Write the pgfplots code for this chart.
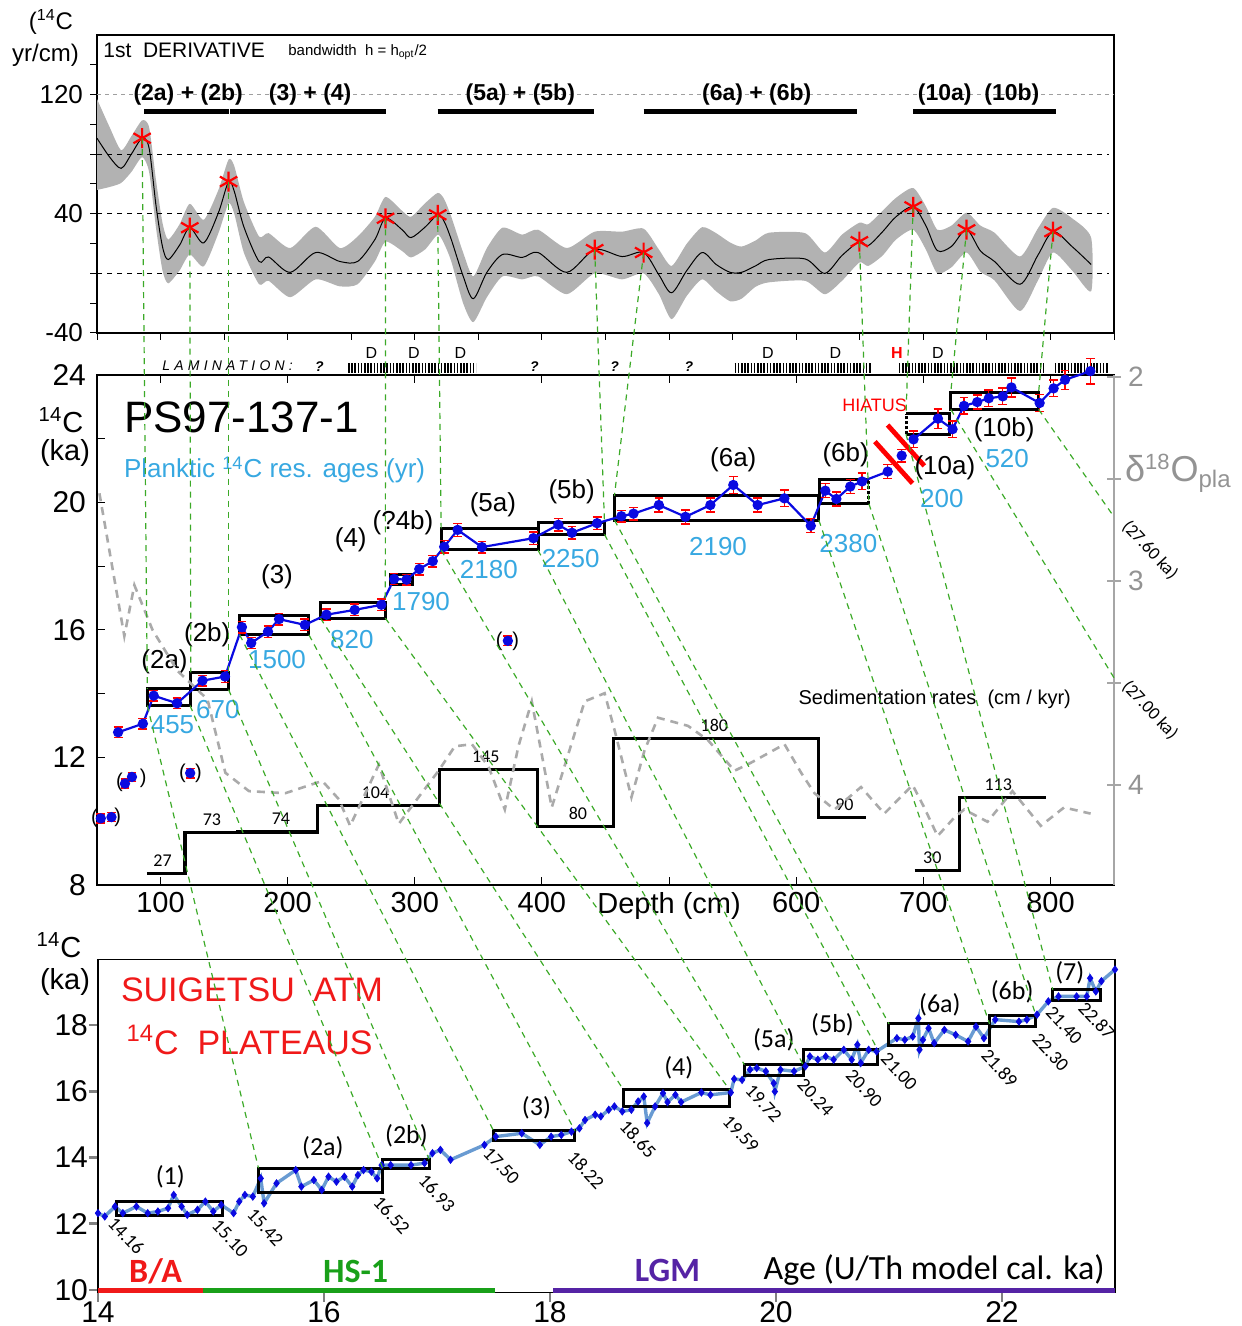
\documentclass[border=0pt]{standalone}
\usepackage{pgfplots}
\usepackage{pgfplotstable}
\pgfplotsset{compat=1.18}
\usepackage{fontspec}
\setmainfont{Liberation Sans}
\newfontfamily\calfont{Carlito}
\newcommand{\fsz}[1]{\fontsize{#1}{#1}\selectfont}

\definecolor{gline}{RGB}{60,170,40}
\definecolor{resblue}{RGB}{55,168,225}
\definecolor{ptblue}{RGB}{10,10,225}
\definecolor{sgline}{RGB}{105,155,210}
\definecolor{bared}{RGB}{240,25,25}
\definecolor{hsgreen}{RGB}{25,160,25}
\definecolor{lgmpurple}{RGB}{85,35,165}
\definecolor{d18grey}{RGB}{170,170,170}

% first derivative of the 14C age-depth relation (14C yr/cm)
\pgfplotstableread{
x y
50 90.7
60 78
69 70.5
77 80
85.5 90.7
91 84
96.5 45
101.5 18
106 9.3
115 19
123 30.7
134 20.5
145.5 40.7
153.5 61.6
158 55
165.5 31.3
177.5 8
185 11
202 0.7
222 14
241 8
255 8
268.6 22.7
277 37
290 29.3
297 24
308 31
318 39.3
323 35
328.7 22.7
338 -1.8
346 -17
356.7 0.7
369 12.7
384.5 10.7
397 14
419.5 0.7
441.5 16
463 11.3
480 14
492 -1
502 -13
514 2
526 14
537 6
548 0.7
557 0.7
568 5
578.6 9.3
607 9.7
622.5 0
636 12
649.7 21.3
656.7 18.7
668 28
678.5 38
692 44.7
702 32
711 15.3
722 18
734 29.3
745 15
756 8
776 -7.3
790 12
802 28
817 18
832 6
}\derivcurve

% Lake Suigetsu atmospheric 14C ages (ka) vs U/Th model age (ka)
\pgfplotstableread{
age c14
14.00 12.32
14.06 12.22
14.15 12.52
14.22 12.32
14.34 12.52
14.44 12.32
14.53 12.37
14.62 12.47
14.67 12.87
14.74 12.52
14.79 12.27
14.88 12.42
14.95 12.67
15.02 12.37
15.09 12.57
15.20 12.32
15.25 12.67
15.30 12.87
15.37 12.82
15.44 13.37
15.47 12.62
15.58 13.22
15.75 13.62
15.80 13.12
15.91 13.32
15.98 13.02
16.04 13.42
16.11 13.27
16.18 13.42
16.25 13.12
16.30 13.47
16.35 13.62
16.42 13.57
16.47 13.37
16.51 13.77
16.59 13.77
16.77 13.77
16.89 13.83
16.96 14.13
17.03 14.23
17.12 13.93
17.42 14.38
17.52 14.63
17.75 14.73
17.91 14.38
18.01 14.63
18.10 14.68
18.19 14.78
18.26 14.88
18.31 15.13
18.40 15.29
18.45 15.24
18.52 15.44
18.57 15.54
18.64 15.39
18.72 15.44
18.78 15.69
18.83 15.84
18.86 15.04
18.93 15.54
19.00 15.94
19.04 15.67
19.11 15.89
19.16 15.67
19.34 15.96
19.42 15.89
19.60 15.96
19.63 16.37
19.70 16.34
19.77 16.65
19.83 16.70
19.91 16.60
19.98 16.24
19.99 15.99
20.04 16.65
20.16 16.60
20.26 16.75
20.30 17.05
20.37 16.95
20.44 17.05
20.51 16.95
20.60 17.25
20.67 16.95
20.72 17.40
20.75 16.85
20.82 17.25
20.89 17.20
21.07 17.60
21.14 17.55
21.21 17.65
21.26 18.20
21.27 17.25
21.30 17.55
21.35 17.90
21.40 17.45
21.49 17.85
21.59 17.70
21.70 17.50
21.77 17.95
21.84 17.60
21.94 18.16
22.15 18.10
22.22 18.16
22.31 18.31
22.41 18.71
22.50 18.86
22.66 18.86
22.75 18.86
22.78 19.41
22.83 19.01
22.88 19.32
23.00 19.67
}\suigetsu

\tikzset{gl/.style={gline, line width=0.6pt, dash pattern=on 3pt off 2.5pt}}
\pgfplotsset{agestyle/.style={ptblue, line width=1.1pt, mark=*, mark size=2pt, mark options={ptblue, solid},
  error bars/y dir=both, error bars/y explicit,
  error bars/error bar style={red, line width=0.7pt},
  error bars/error mark options={red, mark size=2.2pt, rotate=90, line width=0.7pt}}}

\begin{document}
\begin{tikzpicture}
\useasboundingbox (0pt,0pt) rectangle (620.5pt,663pt);

% ================= top panel: 1st derivative =================
\begin{axis}[
  at={(48.5pt,496.5pt)}, anchor=south west,
  width=508.5pt, height=149pt, scale only axis,
  xmin=50, xmax=850, ymin=-40, ymax=160,
  xtick={50,100,...,850}, xticklabels={},
  ytick={-40,40,120}, minor ytick={-20,0,20,60,80,100,140},
  xtick pos=bottom, ytick pos=left,
  tick align=outside, major tick length=3.5pt, minor tick length=3.5pt,
  tick style={black, line width=0.5pt},
  /pgf/number format/assume math mode=true,
  yticklabel style={font=\fsz{13}},
  axis line style={line width=0.6pt},
  clip=false,
]
% confidence band: upper edge left to right, lower edge right to left
\addplot[fill=gray!60, draw=none, smooth, tension=0.4] coordinates {
 (50,117) (60,98) (69,82.7) (77,92) (85.5,102.7) (91,98) (96.5,62) (101.5,34) (106,22.7)
 (115,33) (123,46.7) (134,36) (145.5,56) (153.5,76.4) (158,72) (165.5,48) (177.5,24.7)
 (185,27) (202,17) (222,31.3) (241,17) (255,24.7) (268.6,38) (277,51.3) (290,42) (297,38)
 (308,47) (318,54) (323,50) (328.7,38) (338,14) (346,-2) (356.7,17) (369,30.7) (384.5,26)
 (397,29.3) (419.5,17) (441.5,28) (463,28) (480,30) (492,16) (502,5) (514,20) (526,31)
 (537,27) (548,20.7) (557,18) (568,22) (578.6,27.3) (607,27) (622.5,14) (636,26)
 (649.7,34) (656.7,33) (668,42) (678.5,50.7) (692,57.3) (702,45) (711,29.3) (722,32)
 (734,40.7) (745,32) (756,27.3) (776,11.3) (790,30) (802,44) (817,37) (832,24)
 (832,-12) (817,2) (802,14) (790,-5) (776,-25.3) (756,-4.7) (745,1) (734,14) (722,4)
 (711,0) (702,16) (692,29.3) (678.5,22.7) (668,12) (656.7,5) (649.7,7.3) (636,-5)
 (622.5,-14) (607,-5) (578.6,-6) (568,-9) (557,-17) (548,-18.7) (537,-12) (526,-4)
 (514,-15) (502,-30.7) (492,-14) (480,0) (463,-4) (441.5,0) (419.5,-14) (397,-2)
 (384.5,-4) (369,-2) (356.7,-16) (346,-32.7) (338,-20) (328.7,8) (323,20) (318,26)
 (308,16) (297,10.7) (290,15) (277,21.3) (268.6,8) (255,-7.3) (241,-8.7) (222,-4)
 (202,-16) (185,-5) (177.5,-7.3) (165.5,14) (158,40) (153.5,47) (145.5,27) (134,4.7)
 (123,12.7) (115,2) (106,-6.7) (101.5,2) (96.5,30) (91,68) (85.5,78) (77,68) (69,60.7)
 (60,58) (50,56)
};
\draw[gray!75, dash pattern=on 2pt off 2pt, line width=0.6pt] (axis cs:50,120) -- (axis cs:850,120);
\draw[black, dash pattern=on 2.5pt off 2.5pt, line width=0.5pt] (axis cs:50,80) -- (axis cs:846,80);
\draw[black, dash pattern=on 2.5pt off 2.5pt, line width=0.5pt] (axis cs:50,40) -- (axis cs:846,40);
\draw[black, dash pattern=on 2.5pt off 2.5pt, line width=0.5pt] (axis cs:50,0) -- (axis cs:846,0);
\addplot[black, line width=0.5pt, smooth] table[x=x, y=y] {\derivcurve};
\addplot[only marks, red, mark=asterisk, mark size=5pt, mark options={line width=1.1pt}]
  coordinates {(85.5,90.7) (123,30.7) (153.5,61.6) (277,37) (318,39.3) (441.5,16)
               (480,14) (649.7,21.3) (692,44.7) (734,29.3) (802,28)};
\addplot[black, line width=2.6pt] coordinates {(87,108.7) (153.6,108.7)};
\addplot[black, line width=2.6pt] coordinates {(154.4,108.7) (277,108.7)};
\addplot[black, line width=2.6pt] coordinates {(318,108.7) (441,108.7)};
\addplot[black, line width=2.6pt] coordinates {(480,108.7) (648,108.7)};
\addplot[black, line width=2.6pt] coordinates {(692,108.7) (804,108.7)};
\node[font=\bfseries\fsz{11.5}] at (axis cs:121.7,120) {(2a) + (2b)};
\node[font=\bfseries\fsz{11.5}] at (axis cs:217.7,120) {(3) + (4)};
\node[font=\bfseries\fsz{11.5}] at (axis cs:383,120) {(5a) + (5b)};
\node[font=\bfseries\fsz{11.5}] at (axis cs:569,120) {(6a) + (6b)};
\node[font=\bfseries\fsz{11.5}] at (axis cs:743.5,120) {(10a)\ \ (10b)};
\coordinate (t1) at (axis cs:85.5,90.7);
\coordinate (t2) at (axis cs:123,30.7);
\coordinate (t3) at (axis cs:153.5,61.6);
\coordinate (t4) at (axis cs:277,37);
\coordinate (t5) at (axis cs:318,39.3);
\coordinate (t6) at (axis cs:441.5,16);
\coordinate (t7) at (axis cs:480,14);
\coordinate (t8) at (axis cs:649.7,21.3);
\coordinate (t9) at (axis cs:692,44.7);
\coordinate (t10) at (axis cs:734,29.3);
\coordinate (t11) at (axis cs:802,28);
\end{axis}

\node[font=\fsz{12}] at (25.5pt,652pt) {(\textsuperscript{14}C};
\node[font=\fsz{12}] at (22.75pt,635.5pt) {yr/cm)};
\node[font=\fsz{10.5}, anchor=west, inner sep=0pt] at (51.5pt,638pt) {1st\ \ DERIVATIVE};
\node[font=\fsz{7.5}, anchor=west, inner sep=0pt] at (144pt,637pt) {bandwidth\ \ h = h\textsubscript{opt}/2};

% lamination strip
\node[anchor=west, inner sep=0pt, font=\itshape\fsz{7}\addfontfeature{LetterSpace=30}] at (81pt,480pt) {LAMINATION:};
\foreach \qx in {159.7,267.2,307.3,344.5} {\node[font=\bfseries\itshape\fsz{7}] at (\qx pt,479.5pt) {?};}
\draw[line width=5.3pt, dash pattern=on 0.75pt off 0.85pt] (174pt,479pt) -- (238pt,479pt);
\draw[line width=5.3pt, dash pattern=on 0.75pt off 0.85pt] (367.3pt,479pt) -- (435.5pt,479pt);
\draw[line width=5.3pt, dash pattern=on 0.75pt off 0.85pt] (449.4pt,479pt) -- (521.5pt,479pt);
\draw[line width=5.3pt, dash pattern=on 0.75pt off 0.85pt] (527.4pt,479pt) -- (554pt,479pt);
\foreach \dx in {185.75,207,230.25,384,417.7,469} {\node[font=\fsz{8}] at (\dx pt,486.5pt) {D};}
\node[font=\bfseries\fsz{8}, red] at (448.4pt,486.5pt) {H};

% ================= middle panel: PS97-137-1 =================
\begin{axis}[
  at={(48.5pt,220.5pt)}, anchor=south west,
  width=508.5pt, height=255pt, scale only axis,
  xmin=50, xmax=850, ymin=8, ymax=24,
  xtick={100,200,...,800},
  xticklabels={100,200,300,400,Depth (cm),600,700,800},
  ytick={8,12,16,20,24}, minor ytick={10,14,18,22},
  xtick pos=both, ytick pos=left,
  tick align=inside, major tick length=4pt, minor tick length=4pt,
  tick style={black, line width=0.5pt},
  /pgf/number format/assume math mode=true,
  xticklabel style={font=\fsz{14.5}},
  yticklabel style={font=\fsz{15}, xshift=-2pt},
  axis line style={line width=0.8pt},
  clip=false,
]
% plateau boxes
\addplot[black, line width=1.5pt] coordinates {(89.6,13.63) (123.2,13.63) (123.2,14.15) (89.6,14.15) (89.6,13.63) (123.2,13.63)};
\addplot[black, line width=1.5pt] coordinates {(123.8,14.13) (153.5,14.13) (153.5,14.67) (123.8,14.67) (123.8,14.13) (153.5,14.13)};
\addplot[black, line width=1.5pt] coordinates {(162.2,15.85) (216.7,15.85) (216.7,16.45) (162.2,16.45) (162.2,15.85) (216.7,15.85)};
\addplot[black, line width=1.5pt] coordinates {(225.8,16.37) (276.8,16.37) (276.8,16.87) (225.8,16.87) (225.8,16.37) (276.8,16.37)};
\addplot[black, line width=1.5pt] coordinates {(280.8,17.44) (298.4,17.44) (298.4,17.75) (280.8,17.75) (280.8,17.44) (298.4,17.44)};
\addplot[black, line width=1.5pt] coordinates {(320.7,18.51) (396.9,18.51) (396.9,19.19) (320.7,19.19) (320.7,18.51) (396.9,18.51)};
\addplot[black, line width=1.5pt] coordinates {(396.9,19.00) (449.2,19.00) (449.2,19.38) (396.9,19.38) (396.9,19.00) (449.2,19.00)};
\addplot[black, line width=1.5pt] coordinates {(457,19.45) (617.8,19.45) (617.8,20.21) (457,20.21) (457,19.45) (617.8,19.45)};
\addplot[black, line width=1.5pt] coordinates {(657.2,20.71) (618,20.71) (618,19.96) (657.2,19.96)};
\addplot[black, line width=1.5pt, densely dotted] coordinates {(657.2,19.96) (657.2,20.71)};
\addplot[black, line width=1.5pt] coordinates {(686.4,22.78) (720.8,22.78) (720.8,22.14) (686.4,22.14)};
\addplot[black, line width=1.5pt, densely dotted] coordinates {(686.4,22.14) (686.4,22.78)};
\addplot[black, line width=1.5pt] coordinates {(721.6,22.92) (790.7,22.92) (790.7,23.45) (721.6,23.45) (721.6,22.92) (790.7,22.92)};
% planktic 14C ages
\addplot[agestyle] coordinates {
 (66.6,12.79) +- (0,0.17) (86.1,13.06) +- (0,0.17) (94.6,13.94) +- (0,0.17)
 (113.0,13.70) +- (0,0.17) (133.0,14.41) +- (0,0.17) (150.7,14.54) +- (0,0.18)
 (164.0,16.09) +- (0,0.18) (171.3,15.59) +- (0,0.18) (184.5,15.95) +- (0,0.18)
 (193.2,16.34) +- (0,0.18) (213.5,16.16) +- (0,0.18) (230.5,16.48) +- (0,0.18)
 (252.7,16.63) +- (0,0.18) (273.7,16.79) +- (0,0.18) (283.7,17.60) +- (0,0.17)
 (293.5,17.58) +- (0,0.17) (303.5,17.91) +- (0,0.18) (314.1,18.16) +- (0,0.18)
 (323.1,18.61) +- (0,0.2) (333.7,19.14) +- (0,0.2) (352.8,18.60) +- (0,0.18)
 (393.3,18.88) +- (0,0.2) (412.9,19.30) +- (0,0.2) (423.6,19.05) +- (0,0.2)
 (443.4,19.35) +- (0,0.2) (462.5,19.57) +- (0,0.18) (472.0,19.65) +- (0,0.2)
 (492.0,19.92) +- (0,0.22) (512.9,19.55) +- (0,0.22) (532.5,19.92) +- (0,0.22)
 (550.5,20.55) +- (0,0.26) (569.7,19.92) +- (0,0.22) (590.7,20.13) +- (0,0.26)
 (611.5,19.27) +- (0,0.22) (622.9,20.37) +- (0,0.22) (631.6,20.11) +- (0,0.22)
 (642.5,20.50) +- (0,0.22) (651.8,20.66) +- (0,0.26) (672.0,20.97) +- (0,0.22)
};
\addplot[only marks, agestyle] coordinates {(683.0,21.47) +- (0,0.2)};
\addplot[agestyle] coordinates {
 (692.3,21.98) +- (0,0.26) (711.5,22.63) +- (0,0.3) (723.0,22.30) +- (0,0.26)
 (732.0,23.03) +- (0,0.26) (742.4,23.15) +- (0,0.22) (751.5,23.27) +- (0,0.26)
 (762.5,23.33) +- (0,0.26) (769.3,23.61) +- (0,0.3) (791.5,23.12) +- (0,0.26)
 (802.5,23.58) +- (0,0.26) (811.5,23.85) +- (0,0.3) (831.4,24.12) +- (0,0.4)
};
% rejected ages
\addplot[only marks, agestyle] coordinates {
 (53.0,10.09) +- (0,0.14) (61.4,10.13) +- (0,0.14) (72.0,11.18) +- (0,0.14)
 (77.5,11.39) +- (0,0.14) (123.3,11.51) +- (0,0.15) (373.2,15.66) +- (0,0.15)
};
\node[font=\fsz{10}] at (axis cs:48,10.1) {(};
\node[font=\fsz{10}] at (axis cs:66.2,10.12) {)};
\node[font=\fsz{10}] at (axis cs:67.6,11.22) {(};
\node[font=\fsz{10}] at (axis cs:86.4,11.35) {)};
\node[font=\fsz{10}] at (axis cs:117.3,11.51) {(};
\node[font=\fsz{10}] at (axis cs:129.8,11.51) {)};
\node[font=\fsz{10}] at (axis cs:366.3,15.66) {(};
\node[font=\fsz{10}] at (axis cs:379.4,15.66) {)};
% hiatus
\draw[red, line width=2.4pt] (axis cs:661.9,21.91) -- (axis cs:691.5,20.60);
\draw[red, line width=2.4pt] (axis cs:671.9,22.43) -- (axis cs:700.8,21.15);
\node[font=\fsz{9}, red] at (axis cs:661.7,23.06) {HIATUS};
% texts
\node[font=\fsz{22}, anchor=west, inner sep=0pt] at (axis cs:71,22.68) {PS97-137-1};
\node[font=\fsz{13}, resblue, anchor=west, inner sep=0pt] at (axis cs:71,21.02) {Planktic \textsuperscript{14}C res. ages (yr)};
\node[font=\fsz{13}] at (axis cs:103.1,15.01) {(2a)};
\node[font=\fsz{13}] at (axis cs:136.7,15.85) {(2b)};
\node[font=\fsz{13}] at (axis cs:191.6,17.68) {(3)};
\node[font=\fsz{13}] at (axis cs:249.6,18.83) {(4)};
\node[font=\fsz{13}] at (axis cs:290.7,19.35) {(?4b)};
\node[font=\fsz{13}] at (axis cs:361.4,19.92) {(5a)};
\node[font=\fsz{13}] at (axis cs:423.4,20.34) {(5b)};
\node[font=\fsz{13}] at (axis cs:550.5,21.34) {(6a)};
\node[font=\fsz{13}] at (axis cs:638.9,21.49) {(6b)};
\node[font=\fsz{13}] at (axis cs:717,21.08) {(10a)};
\node[font=\fsz{13}] at (axis cs:763.6,22.28) {(10b)};
\node[font=\fsz{13}, resblue] at (axis cs:109.4,13.03) {455};
\node[font=\fsz{13}, resblue] at (axis cs:145.1,13.50) {670};
\node[font=\fsz{13}, resblue] at (axis cs:191.6,15.07) {1500};
\node[font=\fsz{13}, resblue] at (axis cs:250.5,15.69) {820};
\node[font=\fsz{13}, resblue] at (axis cs:304.9,16.89) {1790};
\node[font=\fsz{13}, resblue] at (axis cs:358.2,17.89) {2180};
\node[font=\fsz{13}, resblue] at (axis cs:422.6,18.25) {2250};
\node[font=\fsz{13}, resblue] at (axis cs:538.5,18.62) {2190};
\node[font=\fsz{13}, resblue] at (axis cs:641,18.72) {2380};
\node[font=\fsz{13}, resblue] at (axis cs:714.6,20.13) {200};
\node[font=\fsz{13}, resblue] at (axis cs:766,21.37) {520};
\node[font=\fsz{10}] at (axis cs:709,13.81) {Sedimentation rates\ \ (cm / kyr)};
% tie points
\coordinate (a1) at (axis cs:89.6,14.15);
\coordinate (a2) at (axis cs:123.8,14.67);
\coordinate (a3) at (axis cs:153.5,14.67);
\coordinate (a4) at (axis cs:276.8,16.87);
\coordinate (a5) at (axis cs:320.7,19.19);
\coordinate (a6) at (axis cs:449.2,19.38);
\coordinate (a7) at (axis cs:457,20.21);
\coordinate (a8) at (axis cs:657.2,19.96);
\coordinate (a9) at (axis cs:686.4,22.78);
\coordinate (a10) at (axis cs:721.6,23.45);
\coordinate (a11) at (axis cs:790.7,23.45);
\coordinate (b1) at (axis cs:89.6,13.63);
\coordinate (b2) at (axis cs:123.2,13.63);
\coordinate (b3) at (axis cs:153.5,14.13);
\coordinate (b4) at (axis cs:162.2,15.85);
\coordinate (b5) at (axis cs:216.7,15.85);
\coordinate (b6) at (axis cs:225.8,16.37);
\coordinate (b7) at (axis cs:276.8,16.37);
\coordinate (b8) at (axis cs:320.7,18.51);
\coordinate (b9) at (axis cs:396.9,18.51);
\coordinate (b10) at (axis cs:449.2,19.00);
\coordinate (b11) at (axis cs:457,19.45);
\coordinate (b12) at (axis cs:617.8,19.45);
\coordinate (b13) at (axis cs:657.2,19.96);
\coordinate (b14) at (axis cs:686.4,22.14);
\coordinate (b15) at (axis cs:721.6,22.92);
\coordinate (b15e) at (axis cs:850,14.5);
\coordinate (b16) at (axis cs:790.7,22.92);
\coordinate (b16e) at (axis cs:850,19.55);
\end{axis}

% sedimentation rates (cm/kyr)
\begin{axis}[
  at={(48.5pt,220.5pt)}, anchor=south west,
  width=508.5pt, height=255pt, scale only axis,
  xmin=50, xmax=850, ymin=13.65, ymax=593.9,
  hide axis, clip=false,
]
\addplot[const plot, black, line width=1.6pt] coordinates {(89.2,27) (119.2,73) (160.6,74) (223.2,104) (319.4,145) (396.4,80) (456.3,180) (617.7,90) (654.9,90)};
\addplot[const plot, black, line width=1.6pt] coordinates {(693.1,30) (728.7,113) (796.4,113)};
\node[font=\calfont\fsz{9}, anchor=south] at (axis cs:101.6,27) {27};
\node[font=\calfont\fsz{9}, anchor=south] at (axis cs:140.4,73) {73};
\node[font=\calfont\fsz{9}, anchor=south] at (axis cs:194.7,74) {74};
\node[font=\calfont\fsz{9}, anchor=south] at (axis cs:269.1,104) {104};
\node[font=\calfont\fsz{9}, anchor=south] at (axis cs:355.8,145) {145};
\node[font=\calfont\fsz{9}, anchor=south] at (axis cs:428.3,80) {80};
\node[font=\calfont\fsz{9}, anchor=south] at (axis cs:535.6,180) {180};
\node[font=\calfont\fsz{9}, anchor=south] at (axis cs:637.9,90) {90};
\node[font=\calfont\fsz{9}, anchor=south] at (axis cs:707.1,30) {30};
\node[font=\calfont\fsz{9}, anchor=south] at (axis cs:758.9,113) {113};
\end{axis}

% planktic d18O (right axis)
\begin{axis}[
  at={(48.5pt,220.5pt)}, anchor=south west,
  width=508.5pt, height=255pt, scale only axis,
  xmin=50, xmax=850, ymin=1.99, ymax=4.49, y dir=reverse,
  axis x line=none, axis y line*=right,
  ytick={2,3,4}, minor ytick={2.5,3.5},
  tick align=center, major tick length=7pt, minor tick length=7pt,
  y axis line style={gray!70, line width=0.9pt},
  ytick style={gray!70, line width=0.7pt},
  /pgf/number format/assume math mode=true,
  yticklabel style={gray!85, font=\fsz{14}},
]
\addplot[d18grey, line width=1.3pt, dash pattern=on 4pt off 3pt] coordinates {
 (51.9,2.57) (71.5,3.27) (79.4,3.02) (93.7,3.24) (113.3,3.44) (136.9,3.58) (151,3.94)
 (169.6,4.03) (198.1,4.04) (227.2,3.98) (240.3,4.07) (249.1,4.20) (271.7,3.90) (287.4,4.19)
 (301.7,4.07) (318.7,3.93) (331.5,3.81) (344.9,3.80) (358,3.91) (370.8,4.12) (381.5,3.81)
 (392,3.59) (407.7,4.11) (433.6,3.59) (449.3,3.55) (457.1,3.73) (470.4,4.06) (480.7,3.83)
 (491.3,3.67) (514.9,3.71) (530.6,3.78) (551.5,3.93) (564.6,3.89) (590.8,3.80) (603.9,3.94)
 (614.4,4.04) (630.1,4.12) (651,4.01) (669.3,4.14) (691.6,4.00) (700.7,4.11) (711.2,4.25)
 (724.3,4.16) (732.1,4.12) (750.5,4.18) (770.1,4.03) (792.4,4.20) (810.7,4.11) (831.6,4.14)
};
\end{axis}

\node[font=\fsz{14.5}] at (30.5pt,453pt) {\textsuperscript{14}C};
\node[font=\fsz{14.5}] at (32.5pt,436.5pt) {(ka)};
\node[anchor=west, gray!85] at (559pt,426.5pt) {\fsz{18}δ\textsuperscript{\fsz{11}18}O\textsubscript{\fsz{12}pla}};
\node[font=\calfont\fsz{9}, rotate=-47] at (575pt,388pt) {(27.60 ka)};
\node[font=\calfont\fsz{9}, rotate=-47] at (575pt,308pt) {(27.00 ka)};

% ================= bottom panel: Lake Suigetsu =================
\begin{axis}[
  at={(49pt,16.65pt)}, anchor=south west,
  width=508.5pt, height=166.7pt, scale only axis,
  xmin=14, xmax=23, ymin=9.92, ymax=19.98,
  xtick={14,16,18,20,22}, ytick={10,12,14,16,18},
  xtick pos=bottom, ytick pos=left,
  tick align=outside, major tick length=4.5pt,
  ytick style={line width=1.3pt},
  xtick style={line width=1pt},
  /pgf/number format/assume math mode=true,
  ticklabel style={font=\fsz{15}},
  xticklabel style={yshift=3.5pt},
  yticklabel style={xshift=3pt},
  axis line style={line width=0.7pt},
  clip=false,
]
\addplot[bared, line width=2.2pt] coordinates {(14,9.99) (14.93,9.99)};
\addplot[hsgreen, line width=2.2pt] coordinates {(14.93,9.99) (17.51,9.99)};
\addplot[lgmpurple, line width=2.2pt] coordinates {(18.03,9.99) (23,9.99)};
\addplot[sgline, line width=1.7pt] table[x=age, y=c14] {\suigetsu};
\addplot[only marks, mark=diamond*, mark size=1.8pt, ptblue] table[x=age, y=c14] {\suigetsu};
% plateau boxes
\addplot[black, line width=1.5pt] coordinates {(14.16,12.24) (15.10,12.24) (15.10,12.67) (14.16,12.67) (14.16,12.24) (15.10,12.24)};
\addplot[black, line width=1.5pt] coordinates {(15.42,12.94) (16.52,12.94) (16.52,13.68) (15.42,13.68) (15.42,12.94) (16.52,12.94)};
\addplot[black, line width=1.5pt] coordinates {(16.52,13.68) (16.93,13.68) (16.93,13.95) (16.52,13.95) (16.52,13.68) (16.93,13.68)};
\addplot[black, line width=1.5pt] coordinates {(17.50,14.51) (18.22,14.51) (18.22,14.81) (17.50,14.81) (17.50,14.51) (18.22,14.51)};
\addplot[black, line width=1.5pt] coordinates {(18.65,15.54) (19.59,15.54) (19.59,16.04) (18.65,16.04) (18.65,15.54) (19.59,15.54)};
\addplot[black, line width=1.5pt] coordinates {(19.72,16.47) (20.24,16.47) (20.24,16.80) (19.72,16.80) (19.72,16.47) (20.24,16.47)};
\addplot[black, line width=1.5pt] coordinates {(20.24,16.80) (20.90,16.80) (20.90,17.25) (20.24,17.25) (20.24,16.80) (20.90,16.80)};
\addplot[black, line width=1.5pt] coordinates {(21.00,17.37) (21.89,17.37) (21.89,18.03) (21.00,18.03) (21.00,17.37) (21.89,17.37)};
\addplot[black, line width=1.5pt] coordinates {(21.89,17.94) (22.30,17.94) (22.30,18.29) (21.89,18.29) (21.89,17.94) (22.30,17.94)};
\addplot[black, line width=1.5pt] coordinates {(22.45,18.74) (22.87,18.74) (22.87,19.06) (22.45,19.06) (22.45,18.74) (22.87,18.74)};
\node[font=\calfont\fsz{13}] at (axis cs:14.64,13.42) {(1)};
\node[font=\calfont\fsz{13}] at (axis cs:15.99,14.28) {(2a)};
\node[font=\calfont\fsz{13}] at (axis cs:16.73,14.65) {(2b)};
\node[font=\calfont\fsz{13}] at (axis cs:17.88,15.49) {(3)};
\node[font=\calfont\fsz{13}] at (axis cs:19.14,16.70) {(4)};
\node[font=\calfont\fsz{13}] at (axis cs:19.98,17.55) {(5a)};
\node[font=\calfont\fsz{13}] at (axis cs:20.50,18.00) {(5b)};
\node[font=\calfont\fsz{13}] at (axis cs:21.45,18.60) {(6a)};
\node[font=\calfont\fsz{13}] at (axis cs:22.09,19.01) {(6b)};
\node[font=\calfont\fsz{13}] at (axis cs:22.60,19.57) {(7)};
\node[font=\calfont\fsz{9.5}, rotate=-47] at (axis cs:14.25,11.64) {14.16};
\node[font=\calfont\fsz{9.5}, rotate=-47] at (axis cs:15.17,11.56) {15.10};
\node[font=\calfont\fsz{9.5}, rotate=-47] at (axis cs:15.48,11.89) {15.42};
\node[font=\calfont\fsz{9.5}, rotate=-47] at (axis cs:16.60,12.26) {16.52};
\node[font=\calfont\fsz{9.5}, rotate=-47] at (axis cs:17.00,12.92) {16.93};
\node[font=\calfont\fsz{9.5}, rotate=-47] at (axis cs:17.57,13.75) {17.50};
\node[font=\calfont\fsz{9.5}, rotate=-47] at (axis cs:18.32,13.62) {18.22};
\node[font=\calfont\fsz{9.5}, rotate=-47] at (axis cs:18.78,14.56) {18.65};
\node[font=\calfont\fsz{9.5}, rotate=-47] at (axis cs:19.69,14.71) {19.59};
\node[font=\calfont\fsz{9.5}, rotate=-47] at (axis cs:19.89,15.64) {19.72};
\node[font=\calfont\fsz{9.5}, rotate=-47] at (axis cs:20.35,15.82) {20.24};
\node[font=\calfont\fsz{9.5}, rotate=-47] at (axis cs:20.78,16.09) {20.90};
\node[font=\calfont\fsz{9.5}, rotate=-47] at (axis cs:21.09,16.59) {21.00};
\node[font=\calfont\fsz{9.5}, rotate=-47] at (axis cs:21.98,16.69) {21.89};
\node[font=\calfont\fsz{9.5}, rotate=-47] at (axis cs:22.43,17.18) {22.30};
\node[font=\calfont\fsz{9.5}, rotate=-47] at (axis cs:22.55,17.98) {21.40};
\node[font=\calfont\fsz{9.5}, rotate=-47] at (axis cs:22.84,18.13) {22.87};
\node[font=\fsz{17}, bared, anchor=west, inner sep=0pt] at (axis cs:14.2,19.06) {SUIGETSU\ \ ATM};
\node[font=\fsz{17}, bared, anchor=west, inner sep=0pt] at (axis cs:14.25,17.55) {\textsuperscript{14}C\ \ PLATEAUS};
\node[font=\calfont\bfseries\fsz{17}, bared] at (axis cs:14.51,10.55) {B/A};
\node[font=\calfont\bfseries\fsz{17}, hsgreen] at (axis cs:16.28,10.55) {HS-1};
\node[font=\calfont\bfseries\fsz{17}, lgmpurple] at (axis cs:19.04,10.6) {LGM};
\node[font=\calfont\fsz{17}] at (axis cs:21.4,10.6) {Age (U/Th model cal. ka)};
\coordinate (c1) at (axis cs:15.42,13.68);
\coordinate (c2) at (axis cs:16.52,13.68);
\coordinate (c3) at (axis cs:16.93,13.95);
\coordinate (c4) at (axis cs:17.50,14.81);
\coordinate (c5) at (axis cs:18.22,14.81);
\coordinate (c6) at (axis cs:18.65,16.04);
\coordinate (c7) at (axis cs:19.59,16.04);
\coordinate (c8) at (axis cs:19.72,16.80);
\coordinate (c9) at (axis cs:20.24,16.80);
\coordinate (c10) at (axis cs:20.90,17.25);
\coordinate (c11) at (axis cs:21.00,18.03);
\coordinate (c12) at (axis cs:21.89,18.03);
\coordinate (c13) at (axis cs:22.30,18.29);
\coordinate (c14) at (axis cs:22.45,19.06);
\end{axis}

\node[font=\fsz{14.5}] at (29.5pt,190.5pt) {\textsuperscript{14}C};
\node[font=\fsz{14.5}] at (32.5pt,172pt) {(ka)};

% tie lines between derivative peaks, core plateaus and Suigetsu plateaus
\draw[gl] (t1) -- (a1);
\draw[gl] (t2) -- (a2);
\draw[gl] (t3) -- (a3);
\draw[gl] (t4) -- (a4);
\draw[gl] (t5) -- (a5);
\draw[gl] (t6) -- (a6);
\draw[gl] (t7) -- (a7);
\draw[gl] (t8) -- (a8);
\draw[gl] (t9) -- (a9);
\draw[gl] (t10) -- (a10);
\draw[gl] (t11) -- (a11);
\draw[gl] (b1) -- (c1);
\draw[gl] (b2) -- (c2);
\draw[gl] (b3) -- (c3);
\draw[gl] (b4) -- (c4);
\draw[gl] (b5) -- (c5);
\draw[gl] (b6) -- (c6);
\draw[gl] (b7) -- (c7);
\draw[gl] (b8) -- (c8);
\draw[gl] (b9) -- (c9);
\draw[gl] (b10) -- (c10);
\draw[gl] (b11) -- (c11);
\draw[gl] (b12) -- (c12);
\draw[gl] (b13) -- (c13);
\draw[gl] (b14) -- (c14);
\draw[gl] (b15) -- (b15e);
\draw[gl] (b16) -- (b16e);
\end{tikzpicture}
\end{document}
